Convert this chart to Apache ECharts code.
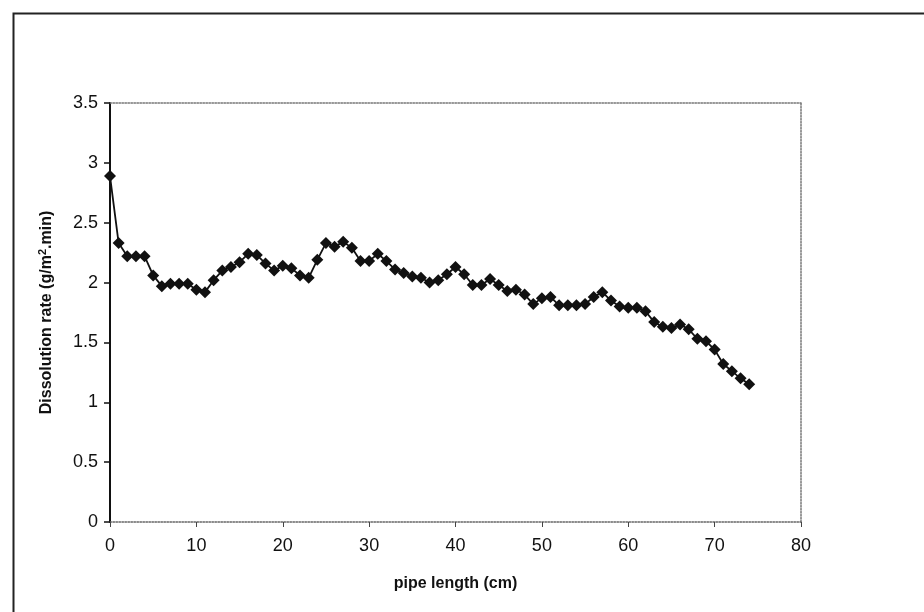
<!DOCTYPE html>
<html>
<head>
<meta charset="utf-8">
<script src="https://cdn.jsdelivr.net/npm/echarts@6/dist/echarts.min.js"></script>
<style>html,body{margin:0;padding:0;background:#fff;}#c{width:924px;height:612px;}</style>
</head>
<body>
<div id="c"></div>
<script>
var pipeLength = [0,1,2,3,4,5,6,7,8,9,10,11,12,13,14,15,16,17,18,19,20,21,22,23,24,25,26,27,28,29,30,31,32,33,34,35,36,37,38,39,40,41,42,43,44,45,46,47,48,49,50,51,52,53,54,55,56,57,58,59,60,61,62,63,64,65,66,67,68,69,70,71,72,73,74];
var dissolutionRate = [2.89,2.33,2.22,2.22,2.22,2.06,1.97,1.99,1.99,1.99,1.94,1.92,2.02,2.1,2.13,2.17,2.24,2.23,2.16,2.1,2.14,2.12,2.06,2.04,2.19,2.33,2.30,2.34,2.29,2.18,2.18,2.24,2.18,2.11,2.08,2.05,2.04,2.0,2.02,2.07,2.13,2.07,1.98,1.98,2.03,1.98,1.93,1.94,1.90,1.82,1.87,1.88,1.81,1.81,1.81,1.82,1.88,1.92,1.85,1.80,1.79,1.79,1.76,1.67,1.63,1.62,1.65,1.61,1.53,1.51,1.44,1.32,1.26,1.20,1.15];
var xTicks = {min:0, max:80, interval:10};
var yTicks = {min:0, max:3.5, interval:0.5};

var pts = pipeLength.map(function(x,i){return [x, dissolutionRate[i]];});
var chart = echarts.init(document.getElementById('c'), null, {renderer:'canvas'});
var font = 'Liberation Sans, Arial, sans-serif';
chart.setOption({
  animation:false,
  backgroundColor:'#fff',
  graphic:[{type:'rect', shape:{x:13.5,y:13.5,width:930,height:620}, style:{fill:'none', stroke:'#222', lineWidth:2}, silent:true}],
  grid:{left:110, right:123, top:103, bottom:90, containLabel:false},
  xAxis:[{
    type:'value', min:xTicks.min, max:xTicks.max, interval:xTicks.interval,
    name:'pipe length (cm)', nameLocation:'middle', nameGap:54,
    nameTextStyle:{fontFamily:font, fontSize:16, fontWeight:'bold', color:'#111'},
    axisLine:{show:true, onZero:false, lineStyle:{color:'#666', width:1.5, type:'dotted'}},
    axisTick:{show:true, inside:false, length:5, lineStyle:{color:'#444'}},
    axisLabel:{fontFamily:font, fontSize:18, color:'#111', margin:15},
    splitLine:{show:false}
  },{
    type:'value', position:'top', min:xTicks.min, max:xTicks.max,
    axisLine:{show:true, onZero:false, lineStyle:{color:'#777', width:1.5, type:'dotted'}},
    axisTick:{show:false}, axisLabel:{show:false}, splitLine:{show:false}
  }],
  yAxis:[{
    type:'value', min:yTicks.min, max:yTicks.max, interval:yTicks.interval,
    name:'Dissolution rate (g/m{sup|2}.min)', nameLocation:'middle', nameGap:54, nameRotate:90,
    nameTextStyle:{fontFamily:font, fontSize:16, fontWeight:'bold', color:'#111',
      rich:{sup:{fontFamily:font, fontSize:11, fontWeight:'bold', color:'#111', verticalAlign:'top', padding:[0,0,8,0]}}},
    axisLine:{show:true, onZero:false, lineStyle:{color:'#111', width:2}},
    axisTick:{show:true, inside:false, length:6, lineStyle:{color:'#111', width:1.5}},
    axisLabel:{fontFamily:font, fontSize:18, color:'#111', margin:12,
      formatter:function(v){return String(v);}},
    splitLine:{show:false}
  },{
    type:'value', position:'right', min:yTicks.min, max:yTicks.max,
    axisLine:{show:true, onZero:false, lineStyle:{color:'#777', width:1.5, type:'dotted'}},
    axisTick:{show:false}, axisLabel:{show:false}, splitLine:{show:false}
  }],
  series:[{
    type:'line', data:pts, xAxisIndex:0, yAxisIndex:0,
    symbol:'diamond', symbolSize:12, showAllSymbol:true,
    lineStyle:{color:'#111', width:1.8},
    itemStyle:{color:'#111'}
  }]
});
</script>
</body>
</html>
